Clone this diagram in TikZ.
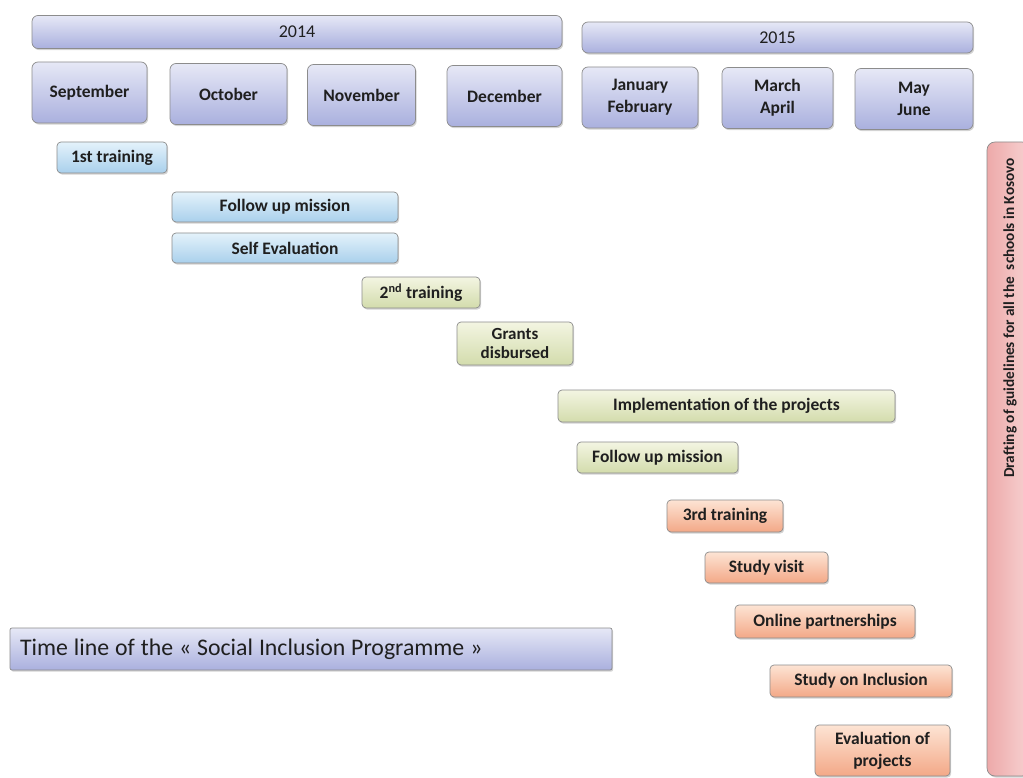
\documentclass[tikz,border=0pt]{standalone}
\usepackage{fontspec}
\setmainfont{Carlito}
\usetikzlibrary{shadows}
\definecolor{mesTopo}{HTML}{E6E8F6}
\definecolor{mesBase}{HTML}{AAB0DE}
\definecolor{azulTopo}{HTML}{E4F2FB}
\definecolor{azulBase}{HTML}{A9D0EC}
\definecolor{verdeTopo}{HTML}{F3F5E2}
\definecolor{verdeBase}{HTML}{D3DCAC}
\definecolor{laranjaTopo}{HTML}{FDE4D4}
\definecolor{laranjaBase}{HTML}{F3A887}
\definecolor{rosaEsq}{HTML}{EDA9A9}
\definecolor{rosaDir}{HTML}{F7D2D2}

\begin{document}
\begin{tikzpicture}[x=1pt, y=-1pt, %Escala em pixels, eixo y para baixo
	caixa/.style={draw=black!45, line width=0.7pt, rounded corners=6pt, inner sep=2pt, align=center, text=black!88,
		font=\bfseries\fontsize{17.5}{22}\selectfont,
		drop shadow={shadow xshift=1.2pt, shadow yshift=-1.6pt, opacity=0.35}},
	mes/.style={caixa, top color=mesTopo, bottom color=mesBase},
	ano/.style={mes, font=\fontsize{18}{20}\selectfont},
	azul/.style={caixa, rounded corners=4pt, top color=azulTopo, bottom color=azulBase},
	verde/.style={caixa, rounded corners=4pt, top color=verdeTopo, bottom color=verdeBase},
	laranja/.style={caixa, rounded corners=4pt, top color=laranjaTopo, bottom color=laranjaBase}]
	\useasboundingbox (0,0) rectangle (1023,778); %Margens da figura
		%Anos
	\node[ano, minimum width=530pt, minimum height=33pt] (ano2014) at (297,32) {2014};
	\node[ano, minimum width=391pt, minimum height=31pt] (ano2015) at (777.5,37.5) {2015};
		%Meses
	\node[mes, minimum width=115pt, minimum height=61pt] (set) at (89.5,92.5) {September};
	\node[mes, minimum width=117pt, minimum height=61pt] (out) at (228.5,94) {October};
	\node[mes, minimum width=108pt, minimum height=61pt] (nov) at (361.5,95) {November};
	\node[mes, minimum width=115pt, minimum height=61pt] (dez) at (504.5,96) {December};
	\node[mes, minimum width=116pt, minimum height=61pt] (janfev) at (640,97.5) {January\\February};
	\node[mes, minimum width=111pt, minimum height=61pt] (marabr) at (777.5,98) {March\\April};
	\node[mes, minimum width=118pt, minimum height=61pt] (maijun) at (914,99) {May\\June};
		%Primeira fase (azul)
	\node[azul, minimum width=110pt, minimum height=31pt] (treino1) at (112,157.5) {1st training};
	\node[azul, minimum width=226pt, minimum height=30pt] (missao1) at (285,207) {Follow up mission};
	\node[azul, minimum width=226pt, minimum height=30pt] (autoav) at (285,248) {Self Evaluation};
		%Segunda fase (verde)
	\node[verde, minimum width=118pt, minimum height=31pt] (treino2) at (421,292.5) {2\textsuperscript{nd} training};
	\node[verde, minimum width=116pt, minimum height=43pt, font=\bfseries\fontsize{17}{19}\selectfont] (bolsas) at (515,343.5) {Grants\\disbursed};
	\node[verde, minimum width=337pt, minimum height=32pt] (implem) at (726.5,406) {Implementation of the projects};
	\node[verde, minimum width=161pt, minimum height=31pt] (missao2) at (657.5,457.5) {Follow up mission};
		%Terceira fase (laranja)
	\node[laranja, minimum width=116pt, minimum height=32pt] (treino3) at (725,516) {3rd training};
	\node[laranja, minimum width=123pt, minimum height=31pt] (visita) at (766.5,567.5) {Study visit};
	\node[laranja, minimum width=180pt, minimum height=33pt] (online) at (825,621.5) {Online partnerships};
	\node[laranja, minimum width=182pt, minimum height=32pt] (estudo) at (861,681) {Study on Inclusion};
	\node[laranja, minimum width=135pt, minimum height=51pt] (avalia) at (882.5,750.5) {Evaluation of\\projects};
		%Barra lateral
	\node[caixa, rounded corners=8pt, minimum width=43pt, minimum height=634pt, left color=rosaEsq, right color=rosaDir] (diretrizes) at (1008.5,459) {};
	\node[rotate=90, font=\bfseries\fontsize{15.3}{17}\selectfont, text=black!88] (diretrizes-txt) at (1010,318) {Drafting of guidelines for all the \ schools in Kosovo};
		%Titulo
	\node[mes, rounded corners=2pt, minimum width=602pt, minimum height=42pt, font=\fontsize{23.8}{26}\selectfont, text width=582pt, align=left] (titulo) at (311,649) {\spaceskip=0.25em Time line of the « Social Inclusion Programme »};
\end{tikzpicture}
\end{document}
